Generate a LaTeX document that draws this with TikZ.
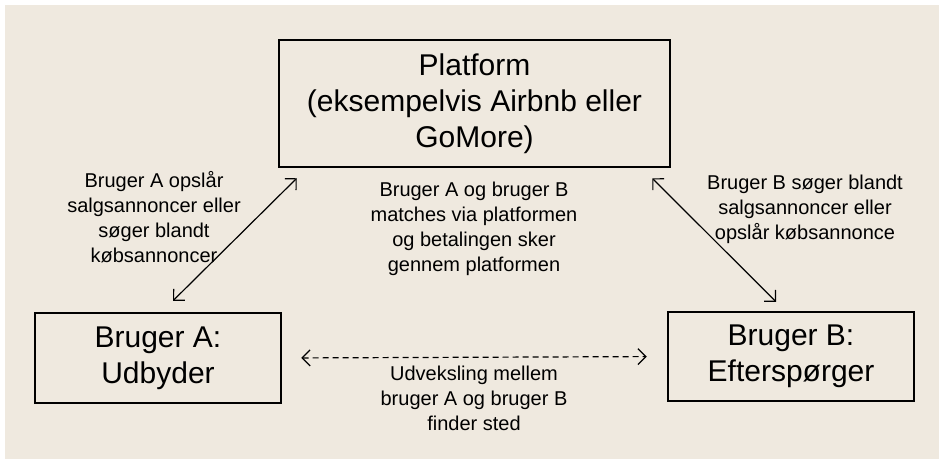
\documentclass[tikz,border=0pt]{standalone}
\usepackage{xcolor}
\usepackage{fontspec}
\setmainfont{Liberation Sans}
\usetikzlibrary{arrows.meta}
\definecolor{beige}{RGB}{239,233,223}

\begin{document}
\begin{tikzpicture}[x=1pt,y=-1pt,
	box/.style={draw,line width=2.5pt,align=center,font=\fontsize{30}{36}\selectfont},
	note/.style={align=center,font=\fontsize{20}{25}\selectfont},
	biarrow/.style={{Straight Barb[length=8pt,width=16pt]}-{Straight Barb[length=8pt,width=16pt]},line width=1.2pt}]
	% We will draw the background here
	\useasboundingbox (0,0) rectangle (939,459);
	\fill[beige] (5,5) rectangle (939,459);
	
	% the three actors
	\node[box,minimum width=391pt,minimum height=127pt] (platform) at (474.5,103.5)
		{Platform\\(eksempelvis Airbnb eller\\GoMore)};
	\node[box,minimum width=246pt,minimum height=90pt] (brugerA) at (158,358)
		{Bruger A:\\Udbyder};
	\node[box,minimum width=246pt,minimum height=89pt] (brugerB) at (791,356.5)
		{Bruger B:\\Efterspørger};
	
	% the connections
	\draw[biarrow] ([xshift=15pt,yshift=11pt]brugerA.north) -- ([xshift=19pt,yshift=-10pt]platform.south west);
	\draw[biarrow] ([xshift=-19pt,yshift=-10pt]platform.south east) -- ([xshift=-15pt,yshift=9pt]brugerB.north);
	\draw[biarrow,dash pattern=on 6pt off 4pt,shorten <=19pt,shorten >=20pt] (brugerA.east) -- (brugerB.west);
	
	% the texts
	\node[note] (noteA) at (154,217)
		{Bruger A opslår\\salgsannoncer eller\\søger blandt\\købsannoncer};
	\node[note] (noteMid) at (474,229)
		{Bruger A og bruger B\\matches via platformen\\og betalingen sker\\gennem platformen};
	\node[note] (noteB) at (805,209)
		{Bruger B søger blandt\\salgsannoncer eller\\opslår købsannonce};
	\node[note] (noteUdv) at (474,398.5)
		{Udveksling mellem\\bruger A og bruger B\\finder sted};
	
\end{tikzpicture}
\end{document}
